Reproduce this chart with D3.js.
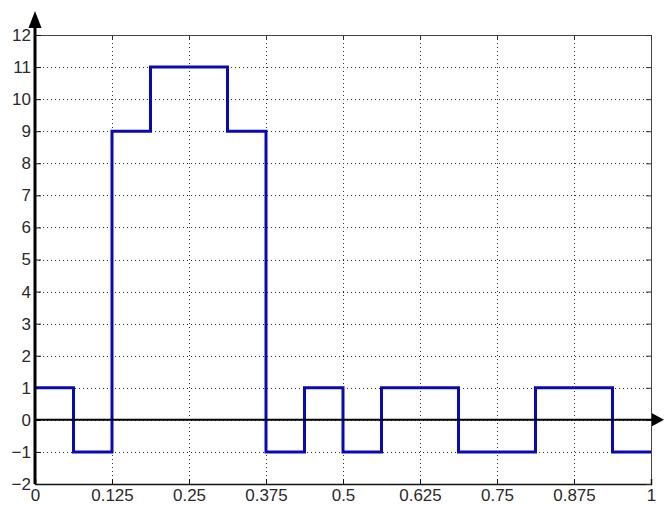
<!DOCTYPE html>
<html>
<head>
<meta charset="utf-8">
<script src="https://cdn.jsdelivr.net/npm/d3@7"></script>
<style>
  html, body { margin: 0; padding: 0; background: #fff; }
  svg { display: block; }
  text { font-family: "Liberation Sans", Arial, sans-serif; fill: #2a2a2a; }
</style>
</head>
<body>
<svg id="chart" width="666" height="505"></svg>
<script>
// Step levels of the signal on each 1/16 interval of t in [0, 1]
const stepEdges = [0, 0.0625, 0.125, 0.1875, 0.25, 0.3125, 0.375, 0.4375, 0.5,
                   0.5625, 0.625, 0.6875, 0.75, 0.8125, 0.875, 0.9375, 1];
const stepValues = [1, -1, 9, 11, 11, 9, -1, 1, -1, 1, 1, -1, -1, 1, 1, -1];

// Tick labels
const xTicks = [0, 0.125, 0.25, 0.375, 0.5, 0.625, 0.75, 0.875, 1];
const xTickLabels = ["0", "0.125", "0.25", "0.375", "0.5", "0.625", "0.75", "0.875", "1"];
const yTicks = [-2, -1, 0, 1, 2, 3, 4, 5, 6, 7, 8, 9, 10, 11, 12];

const svg = d3.select("#chart");
const plotLeft = 35, plotRight = 651, plotTop = 35, plotBottom = 484;
const labelFont = 17;

const x = d3.scaleLinear().domain([0, 1]).range([plotLeft, plotRight]);
const y = d3.scaleLinear().domain([-2, 12]).range([plotBottom, plotTop]);

svg.append("rect").attr("width", 666).attr("height", 505).attr("fill", "#fff");

// Dotted grid
const grid = svg.append("g").attr("stroke", "#333").attr("stroke-width", 1)
  .attr("stroke-dasharray", "1,3");
grid.selectAll("line.gy").data(yTicks.filter(v => v > -2 && v < 12)).join("line")
  .attr("x1", plotLeft).attr("x2", plotRight)
  .attr("y1", d => Math.round(y(d)) + 0.5).attr("y2", d => Math.round(y(d)) + 0.5);
grid.selectAll("line.gx").data(xTicks.filter(v => v > 0 && v < 1)).join("line")
  .attr("y1", plotTop).attr("y2", plotBottom)
  .attr("x1", d => Math.round(x(d)) + 0.5).attr("x2", d => Math.round(x(d)) + 0.5);

// Box: top and right edges
svg.append("line").attr("x1", plotLeft).attr("x2", plotRight + 0.5)
  .attr("y1", plotTop + 0.5).attr("y2", plotTop + 0.5)
  .attr("stroke", "#444").attr("stroke-width", 1);
svg.append("line").attr("x1", plotRight + 0.5).attr("x2", plotRight + 0.5)
  .attr("y1", plotTop).attr("y2", plotBottom)
  .attr("stroke", "#444").attr("stroke-width", 1);

// Axes with inward ticks
const fmtX = d => xTickLabels[xTicks.indexOf(d)];
const xAxisBottom = d3.axisBottom(x).tickValues(xTicks).tickSize(-5).tickFormat(fmtX);
const gxb = svg.append("g").attr("transform", `translate(0,${plotBottom})`).call(xAxisBottom);
gxb.select(".domain").attr("stroke", "#111").attr("stroke-width", 1.5);
gxb.selectAll(".tick line").attr("stroke", "#111");
gxb.selectAll(".tick text")
  .attr("y", 16.5).attr("dy", 0)
  .attr("font-size", labelFont).attr("fill", "#2a2a2a")
  .attr("font-family", "Liberation Sans, Arial, sans-serif");

const xAxisTop = d3.axisTop(x).tickValues(xTicks).tickSize(-5).tickFormat("");
const gxt = svg.append("g").attr("transform", `translate(0,${plotTop})`).call(xAxisTop);
gxt.select(".domain").remove();
gxt.selectAll(".tick line").attr("stroke", "#333");

const yAxisRight = d3.axisRight(y).tickValues(yTicks).tickSize(-5).tickFormat("");
const gyr = svg.append("g").attr("transform", `translate(${plotRight},0)`).call(yAxisRight);
gyr.select(".domain").remove();
gyr.selectAll(".tick line").attr("stroke", "#333");

const yAxisLeft = d3.axisLeft(y).tickValues(yTicks).tickSize(-6).tickPadding(4).tickFormat(d3.format("d"));
const gyl = svg.append("g").attr("transform", `translate(${plotLeft},0)`).call(yAxisLeft);
gyl.select(".domain").remove();
gyl.selectAll(".tick line").attr("stroke", "#111");
gyl.selectAll(".tick text").attr("font-size", labelFont).attr("fill", "#2a2a2a")
  .attr("font-family", "Liberation Sans, Arial, sans-serif");

// Step signal
const stepPoints = stepValues.map((v, i) => [stepEdges[i], v]);
stepPoints.push([stepEdges[stepEdges.length - 1], stepValues[stepValues.length - 1]]);
const stepLine = d3.line().x(d => x(d[0])).y(d => y(d[1])).curve(d3.curveStepAfter);
svg.append("path").datum(stepPoints)
  .attr("d", stepLine)
  .attr("fill", "none")
  .attr("stroke", "#0a0ab4")
  .attr("stroke-width", 3)
  .attr("stroke-linejoin", "miter")
  .attr("stroke-linecap", "butt");

// Arrowed axes: vertical at t = 0, horizontal at value 0
svg.append("line")
  .attr("x1", plotLeft).attr("x2", plotLeft)
  .attr("y1", plotBottom).attr("y2", 22)
  .attr("stroke", "#000").attr("stroke-width", 3);
svg.append("path")
  .attr("d", `M${plotLeft},11 L${plotLeft - 6.5},28 L${plotLeft + 6.5},28 Z`)
  .attr("fill", "#000");

const y0 = y(0);
svg.append("line")
  .attr("x1", plotLeft).attr("x2", 655)
  .attr("y1", y0).attr("y2", y0)
  .attr("stroke", "#000").attr("stroke-width", 2);
svg.append("path")
  .attr("d", `M664,${y0} L652,${y0 - 6.5} L652,${y0 + 6.5} Z`)
  .attr("fill", "#000");
</script>
</body>
</html>
